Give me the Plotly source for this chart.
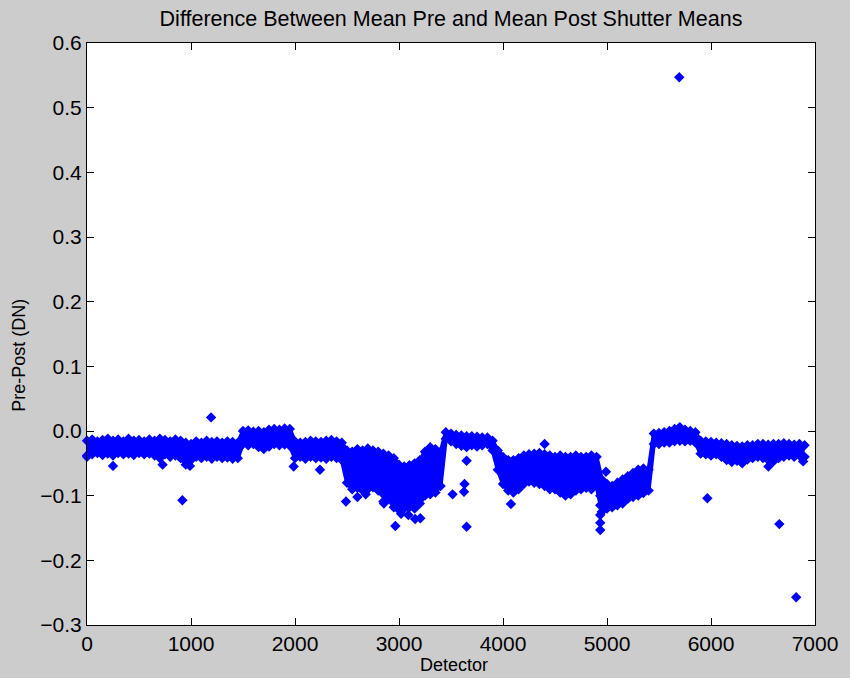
import plotly.graph_objects as go

# Detector positions (every 50 detectors) with the upper and lower edge of the dense band
det = list(range(0, 6950, 50))
band_upper = [
    -0.015, -0.013, -0.016, -0.014, -0.012, -0.015, -0.013, -0.016, -0.012, -0.015,
    -0.014, -0.016, -0.013, -0.015, -0.012, -0.014, -0.016, -0.013, -0.015, -0.018,
    -0.020, -0.016, -0.018, -0.015, -0.017, -0.016, -0.018, -0.016, -0.017, -0.018,
    0.000, 0.001, -0.001, 0.000, -0.002, 0.002, 0.003, 0.002, 0.004, 0.003,
    -0.016, -0.018, -0.017, -0.015, -0.016, -0.017, -0.015, -0.014, -0.016, -0.018,
    -0.030, -0.032, -0.028, -0.030, -0.027, -0.030, -0.032, -0.035, -0.038, -0.042,
    -0.052, -0.055, -0.053, -0.050, -0.045, -0.032, -0.025, -0.028, -0.032,
    -0.002, -0.004, -0.006, -0.007, -0.008, -0.008, -0.009, -0.010, -0.010, -0.015,
    -0.030, -0.040, -0.045, -0.045, -0.042, -0.038, -0.036, -0.035, -0.034, -0.036,
    -0.038, -0.040, -0.038, -0.040, -0.040, -0.038, -0.040, -0.040, -0.038, -0.040,
    -0.075, -0.082, -0.085, -0.080, -0.075, -0.070, -0.065, -0.060, -0.058, -0.060,
    -0.004, -0.003, -0.002, 0.000, 0.003, 0.006, 0.002, 0.000, -0.002,
    -0.015, -0.016, -0.017, -0.018, -0.019, -0.020, -0.022, -0.023, -0.024, -0.022,
    -0.022, -0.020, -0.020, -0.021, -0.020, -0.020, -0.019, -0.020, -0.021, -0.020,
    -0.022,
]
band_lower = [
    -0.038, -0.036, -0.034, -0.037, -0.035, -0.038, -0.034, -0.036, -0.035, -0.037,
    -0.034, -0.036, -0.035, -0.038, -0.042, -0.036, -0.040, -0.038, -0.042, -0.052,
    -0.045, -0.040, -0.042, -0.040, -0.043, -0.040, -0.042, -0.041, -0.043, -0.042,
    -0.020, -0.022, -0.020, -0.025, -0.028, -0.024, -0.020, -0.022, -0.021, -0.023,
    -0.042, -0.040, -0.043, -0.040, -0.042, -0.041, -0.043, -0.040, -0.042, -0.045,
    -0.080, -0.090, -0.088, -0.092, -0.090, -0.087, -0.092, -0.098, -0.105, -0.118,
    -0.122, -0.120, -0.118, -0.120, -0.112, -0.100, -0.098, -0.095, -0.085,
    -0.012, -0.016, -0.020, -0.023, -0.025, -0.022, -0.024, -0.022, -0.020, -0.030,
    -0.060, -0.082, -0.092, -0.095, -0.090, -0.082, -0.078, -0.080, -0.082, -0.085,
    -0.088, -0.090, -0.095, -0.100, -0.098, -0.092, -0.090, -0.088, -0.090, -0.085,
    -0.125, -0.120, -0.118, -0.115, -0.112, -0.105, -0.102, -0.100, -0.096, -0.092,
    -0.020, -0.020, -0.018, -0.018, -0.016, -0.015, -0.016, -0.015, -0.018,
    -0.035, -0.036, -0.038, -0.036, -0.040, -0.045, -0.048, -0.046, -0.050, -0.044,
    -0.042, -0.040, -0.042, -0.045, -0.047, -0.042, -0.040, -0.038, -0.040, -0.038,
    -0.040,
]

# Isolated points outside the band
out_det = [0, 250, 727, 917, 990, 1193, 1987, 2240, 2490, 2600, 2680, 2855, 2850,
           2965, 3020, 3090, 3155, 3205, 3515, 3625, 3630, 3650, 3650, 4076, 4400,
           4450, 4990, 4935, 4935, 4935, 4935, 4935, 5695, 5965, 6552, 6657, 6819, 6886]
out_val = [-0.040, -0.054, -0.052, -0.107, -0.054, 0.021, -0.055, -0.060, -0.109, -0.102,
           -0.098, -0.112, -0.109, -0.147, -0.128, -0.130, -0.136, -0.135, -0.098, -0.094,
           -0.082, -0.046, -0.148, -0.113, -0.020, -0.090, -0.063, -0.100, -0.115, -0.130,
           -0.142, -0.153, 0.547, -0.104, -0.055, -0.144, -0.257, -0.047]

BLUE = "#0000ff"
FONT = "Liberation Sans, Arial, sans-serif"

fig = go.Figure()
fig.add_trace(go.Scatter(
    x=det, y=band_lower, mode="lines", line=dict(color=BLUE, width=4, simplify=False),
    hoverinfo="skip", showlegend=False,
))
fig.add_trace(go.Scatter(
    x=det, y=band_upper, mode="lines", fill="tonexty", fillcolor=BLUE,
    line=dict(color=BLUE, width=4, simplify=False),
    hoverinfo="skip", showlegend=False,
))
fig.add_trace(go.Scatter(
    x=det + det, y=band_upper + band_lower, mode="markers",
    marker=dict(symbol="diamond", size=8, color=BLUE, line=dict(width=0)),
    cliponaxis=False, showlegend=False,
))
fig.add_trace(go.Scatter(
    x=out_det, y=out_val, mode="markers",
    marker=dict(symbol="diamond", size=8, color=BLUE, line=dict(width=0)),
    cliponaxis=False, showlegend=False,
))

axis_common = dict(
    showgrid=False, zeroline=False, showline=True, linecolor="black", linewidth=1,
    mirror="ticks", ticks="inside", ticklen=7, tickcolor="black", tickwidth=1,
    tickfont=dict(family=FONT, size=21, color="black"),
)
fig.update_xaxes(range=[0, 7000], tick0=0, dtick=1000, **axis_common)
fig.update_yaxes(range=[-0.3, 0.6], tick0=-0.3, dtick=0.1, tickformat=".1f", **axis_common)

fig.update_layout(
    width=850, height=678,
    margin=dict(l=87, r=28, t=43, b=53, pad=0),
    paper_bgcolor="#cccccc", plot_bgcolor="white",
    title=dict(text="Difference Between Mean Pre and Mean Post Shutter Means",
               x=451 / 850, xanchor="center", y=1 - 18 / 678, yanchor="middle",
               yref="container", font=dict(family=FONT, size=21.5, color="black")),
    annotations=[
        dict(text="Detector", xref="paper", yref="paper", x=(458 - 87) / 735,
             y=-(665 - 625) / 582,
             xanchor="center", yanchor="middle", showarrow=False,
             font=dict(family=FONT, size=18, color="black")),
        dict(text="Pre-Post (DN)", xref="paper", yref="paper", x=(18 - 87) / 735,
             y=(625 - 355) / 582, xanchor="center", yanchor="middle", textangle=-90,
             showarrow=False, font=dict(family=FONT, size=18, color="black")),
    ],
)

fig.write_html("out.html")
